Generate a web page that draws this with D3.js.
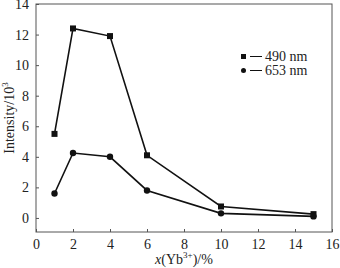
<!DOCTYPE html>
<html>
<head>
<style>
html, body { margin:0; padding:0; background:#fff; }
svg { display:block; }
text { font-family:"Liberation Serif", "DejaVu Serif", serif; fill:#222; }
</style>
</head>
<body>
<svg width="340" height="268"></svg>
<script src="https://cdn.jsdelivr.net/npm/d3@7/dist/d3.min.js"></script>
<script>
// data
var xVals = [1, 2, 4, 6, 10, 15];
var s490 = [5.5, 12.4, 11.9, 4.1, 0.75, 0.25];
var s653 = [1.6, 4.25, 4.0, 1.8, 0.3, 0.1];
var xTicks = [0, 2, 4, 6, 8, 10, 12, 14, 16];
var yTicks = [0, 2, 4, 6, 8, 10, 12, 14];
var seriesNames = ["490 nm", "653 nm"];

var svg = d3.select("svg");
var pLeft = 36, pRight = 332, pTop = 4, pBottom = 232;

var x = d3.scaleLinear().domain([0, 16]).range([pLeft, pRight]);
var y = d3.scaleLinear().domain([-0.92, 14]).range([pBottom, pTop]);

// frame
svg.append("rect")
    .attr("x", pLeft).attr("y", pTop)
    .attr("width", pRight - pLeft).attr("height", pBottom - pTop)
    .attr("fill", "none").attr("stroke", "#555").attr("stroke-width", 1);

// axes, ticks pointing inward
var xAxis = svg.append("g").attr("transform", "translate(0," + pBottom + ")")
    .call(d3.axisBottom(x).tickValues(xTicks).tickSizeInner(-3).tickSizeOuter(0).tickPadding(7));
var yAxis = svg.append("g").attr("transform", "translate(" + pLeft + ",0)")
    .call(d3.axisLeft(y).tickValues(yTicks).tickSizeInner(-3).tickSizeOuter(0).tickPadding(7));
[xAxis, yAxis].forEach(function(g){
    g.select(".domain").remove();
    g.selectAll("line").attr("stroke", "#555");
    g.selectAll("text").attr("font-size", 14).attr("fill", "#222")
        .style("font-family", "Liberation Serif, serif");
});

var line = d3.line()
    .x(function(d){ return x(d[0]) })
    .y(function(d){ return y(d[1]) });

var d490 = xVals.map(function(v, i){ return [v, s490[i]] });
var d653 = xVals.map(function(v, i){ return [v, s653[i]] });

[d490, d653].forEach(function(data){
    svg.append("path").attr("d", line(data))
        .attr("fill", "none").attr("stroke", "#111").attr("stroke-width", 1.6);
});

svg.selectAll(".sq").data(d490).enter().append("rect")
    .attr("x", function(d){ return x(d[0]) - 3 })
    .attr("y", function(d){ return y(d[1]) - 3 })
    .attr("width", 6).attr("height", 6).attr("fill", "#111");
svg.selectAll(".ci").data(d653).enter().append("circle")
    .attr("cx", function(d){ return x(d[0]) })
    .attr("cy", function(d){ return y(d[1]) })
    .attr("r", 3.2).attr("fill", "#111");

// legend
var lg = svg.append("g");
lg.append("rect").attr("x", 241).attr("y", 54).attr("width", 5).attr("height", 5).attr("fill", "#111");
lg.append("line").attr("x1", 250).attr("x2", 262).attr("y1", 56.5).attr("y2", 56.5).attr("stroke", "#111");
lg.append("text").attr("x", 265).attr("y", 61).attr("font-size", 14).text(seriesNames[0]);
lg.append("circle").attr("cx", 243.5).attr("cy", 70.5).attr("r", 2.5).attr("fill", "#111");
lg.append("line").attr("x1", 250).attr("x2", 262).attr("y1", 70.5).attr("y2", 70.5).attr("stroke", "#111");
lg.append("text").attr("x", 265).attr("y", 75).attr("font-size", 14).text(seriesNames[1]);

// axis titles
var xt = svg.append("text").attr("x", 184).attr("y", 264).attr("text-anchor", "middle").attr("font-size", 14);
xt.append("tspan").attr("font-style", "italic").text("x");
xt.append("tspan").text("(Yb");
xt.append("tspan").attr("font-size", 9).attr("dy", -6).text("3+");
xt.append("tspan").attr("dy", 6).text(")/%");

var yt = svg.append("text").attr("transform", "translate(14,118) rotate(-90)")
    .attr("text-anchor", "middle").attr("font-size", 14);
yt.append("tspan").text("Intensity/10");
yt.append("tspan").attr("font-size", 9).attr("dy", -6).text("3");
</script>
</body>
</html>
